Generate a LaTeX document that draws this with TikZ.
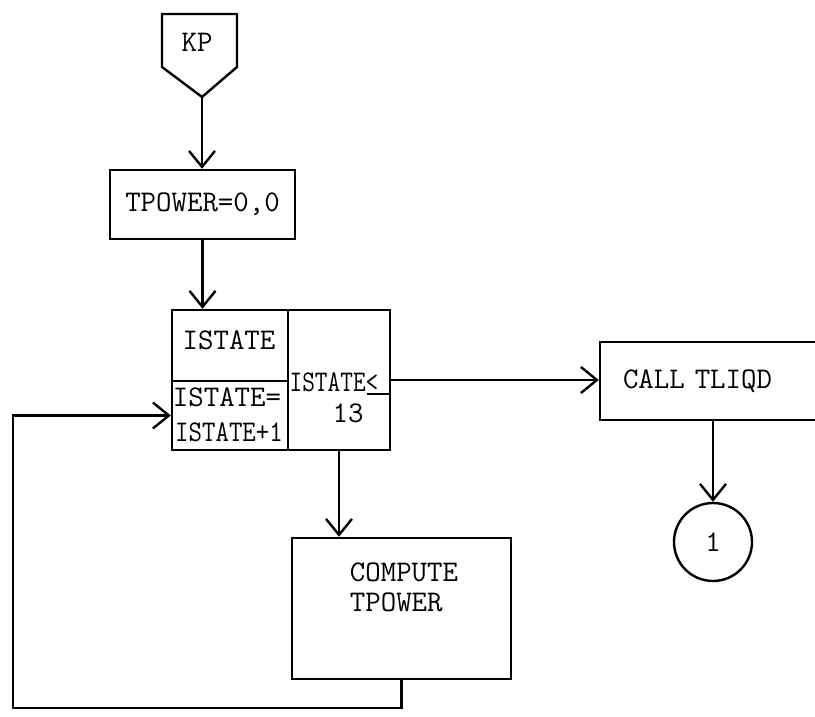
\documentclass[tikz,border=0pt]{standalone}
\usetikzlibrary{arrows.meta, positioning, calc}

\begin{document}
\begin{tikzpicture}[
  x=0.5pt, y=-0.5pt,
  font=\ttfamily\fontsize{15}{17}\selectfont,
  box/.style={rectangle, draw, line width=1.2pt, inner sep=0pt},
  txt/.style={inner sep=0pt},
  arrow/.style={-{Straight Barb[length=8pt, width=13pt, line width=1.2pt]}, line width=1.2pt}
]
  \useasboundingbox (0,0) rectangle (815,717);

  % entry connector
  \node[txt] (kp) at (197,42) {KP};
  \coordinate (kptip) at (202,97);
  \draw[line width=1.2pt] (162,14) -- (237,14) -- (237,67) -- (kptip) -- (162,67) -- cycle;

  \node[box, minimum width=92.5pt, minimum height=34.5pt] (init) at (202.5,204.5) {TPOWER=0,0};

  % loop box
  \node[box, minimum width=58pt, minimum height=35.5pt] (cnt) at (230,345.5) {};
  \node[box, minimum width=58pt, minimum height=34.5pt] (incr) at (230,415.5) {};
  \node[box, minimum width=51pt, minimum height=70pt] (test) at (339,380) {};
  \node[txt] (cnttxt) at (229,340) {ISTATE};
  \node[txt] (incrtxt) at (227,397) {ISTATE=};
  \node[txt] (incrval) at (229,432) {\scalebox{0.87}[1]{ISTATE+1}};
  \node[txt] (testtxt) at (334,382) {\scalebox{0.82}[1]{ISTATE<}};
  \node[txt] (limit) at (348,413) {13};
  \draw[line width=1.2pt] (367,394) -- (390,394);

  \node[box, minimum width=115pt, minimum height=39pt, text width=92pt, align=left] (call) at (715,381) {CALL TLIQD};
  \node[draw, circle, line width=1.2pt, minimum size=39pt, inner sep=0pt] (conn) at (713,542) {1};

  \node[box, minimum width=109.5pt, minimum height=70.5pt] (calc) at (401.5,608.5) {};
  \node[txt, align=left, font=\ttfamily\fontsize{15}{15}\selectfont] (calctxt) at (404,587) {COMPUTE\\TPOWER};

  \coordinate (loopbot) at (13,708);

  \draw[arrow] (kptip) -- (kptip |- init.north);
  \draw[arrow] (init.south) -- (init.south |- cnt.north);
  \draw[arrow, line width=0.6pt] (test.east) -- (test.east -| call.west);
  \draw[arrow] (conn.north |- call.south) -- (conn.north);
  \draw[arrow] (test.south) -- (test.south |- calc.north);
  \draw[arrow] (calc.south) |- (loopbot) |- (incr.west);
\end{tikzpicture}
\end{document}
